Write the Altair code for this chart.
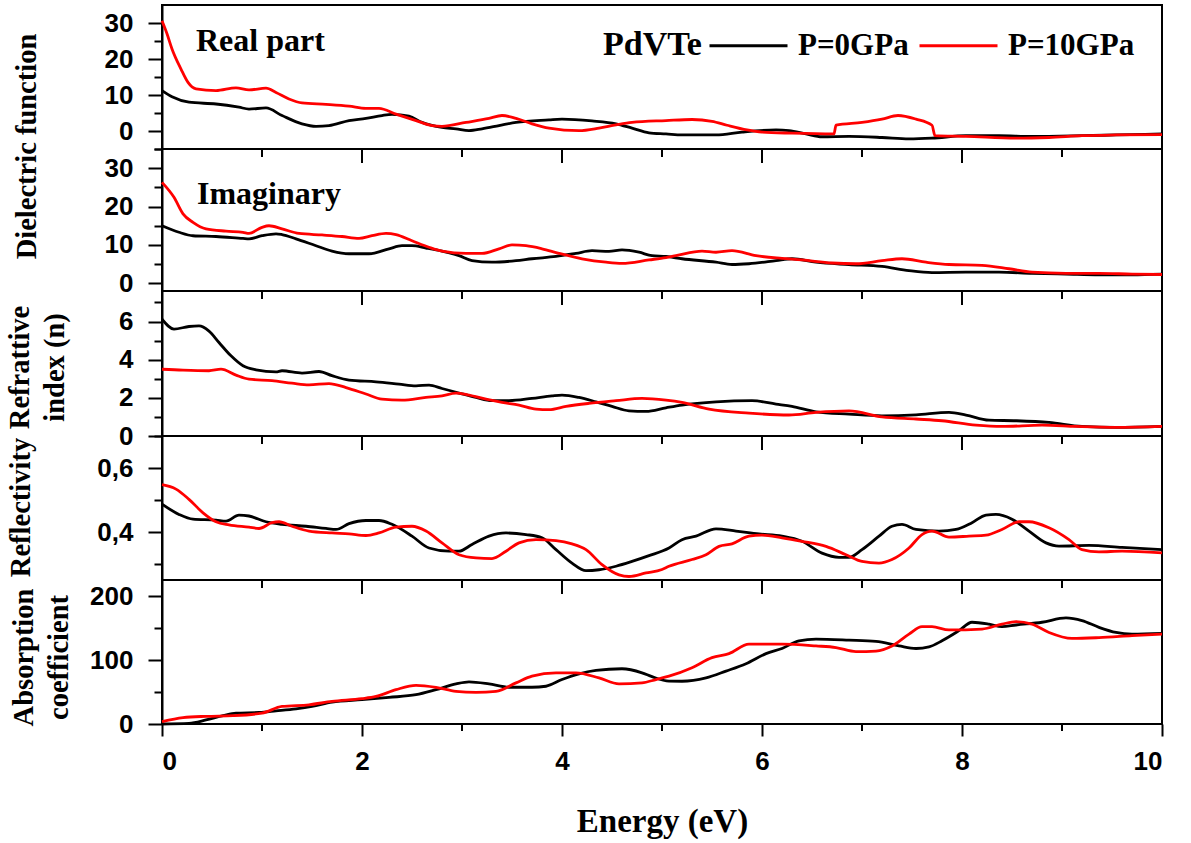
import altair as alt
import pandas as pd

SERIES = ["P=0GPa", "P=10GPa"]
COLORS = ["#000000", "#ff0000"]

# ---- Real part of dielectric function ----
RE0_E = [0, 0.1, 0.27, 0.54, 0.77, 0.87, 1.04, 1.2, 1.4, 1.54, 1.67, 1.87, 2.04, 2.2, 2.3, 2.47, 2.6, 2.8, 2.94, 3.07, 3.2, 3.37, 3.54, 3.87, 4.0, 4.3, 4.54, 4.7, 4.87, 5.04, 5.2, 5.54, 5.8, 6.14, 6.27, 6.44, 6.6, 6.87, 7.2, 7.47, 7.7, 8.04, 8.37, 8.7, 9.2, 9.54, 10]
RE0_V = [11.2, 9.5, 8.0, 7.5, 6.6, 6.1, 6.4, 4.3, 2.0, 1.3, 1.5, 2.9, 3.5, 4.3, 4.6, 4.1, 2.4, 1.0, 0.6, 0.1, 0.6, 1.5, 2.4, 3.1, 3.3, 2.8, 2.0, 0.8, -0.5, -0.8, -1.1, -1.1, -0.3, 0.3, 0.1, -0.8, -1.6, -1.5, -1.8, -2.2, -2.0, -1.3, -1.3, -1.5, -1.3, -1.1, -0.8]
RE10_E = [0, 0.05, 0.1, 0.19, 0.26, 0.34, 0.54, 0.74, 0.87, 1.04, 1.14, 1.27, 1.4, 1.64, 1.87, 2.04, 2.17, 2.34, 2.54, 2.7, 2.8, 3.04, 3.27, 3.4, 3.54, 3.7, 3.87, 4.17, 4.37, 4.54, 4.7, 5.04, 5.3, 5.5, 5.65, 5.85, 6.0, 6.3, 6.72, 6.74, 7.0, 7.2, 7.36, 7.54, 7.7, 7.73, 8.04, 8.54, 8.87, 9.2, 9.54, 10]
RE10_V = [30.6, 27.0, 22.8, 17.2, 13.5, 11.7, 11.2, 12.0, 11.4, 11.9, 10.7, 8.9, 7.8, 7.4, 6.9, 6.3, 6.3, 4.7, 2.9, 1.5, 1.3, 2.4, 3.5, 4.3, 3.5, 2.0, 0.8, 0.1, 0.8, 1.7, 2.4, 2.9, 3.2, 2.7, 1.6, 0.3, -0.3, -0.6, -0.8, 1.6, 2.4, 3.3, 4.3, 3.3, 1.6, -1.3, -1.5, -2.0, -1.8, -1.3, -1.1, -1.0]

# ---- Imaginary part ----
IM0_E = [0, 0.17, 0.31, 0.54, 0.81, 0.87, 1.0, 1.14, 1.2, 1.34, 1.54, 1.7, 1.87, 2.07, 2.27, 2.4, 2.5, 2.64, 2.8, 2.97, 3.1, 3.3, 3.54, 3.7, 3.94, 4.14, 4.3, 4.47, 4.6, 4.77, 4.9, 5.04, 5.2, 5.54, 5.7, 5.87, 6.14, 6.3, 6.54, 6.87, 7.2, 7.47, 7.7, 8.04, 8.37, 8.7, 9.04, 9.37, 9.7, 10]
IM0_V = [15.0, 13.3, 12.4, 12.2, 11.7, 11.6, 12.4, 12.9, 12.7, 11.6, 9.8, 8.4, 7.7, 7.7, 9.0, 9.8, 9.8, 9.2, 8.4, 7.2, 5.9, 5.5, 5.9, 6.4, 7.0, 7.8, 8.5, 8.3, 8.7, 8.1, 7.2, 7.0, 6.4, 5.5, 4.9, 5.1, 5.9, 6.4, 5.5, 4.9, 4.4, 3.3, 2.8, 2.9, 2.9, 2.6, 2.4, 2.2, 2.2, 2.4]
IM10_E = [0, 0.12, 0.21, 0.31, 0.44, 0.64, 0.81, 0.87, 1.0, 1.07, 1.2, 1.37, 1.6, 1.8, 1.97, 2.1, 2.24, 2.34, 2.5, 2.67, 2.8, 3.04, 3.2, 3.37, 3.5, 3.64, 3.8, 3.97, 4.2, 4.44, 4.6, 4.87, 5.04, 5.14, 5.4, 5.54, 5.7, 5.94, 6.2, 6.4, 6.7, 6.94, 7.2, 7.4, 7.64, 7.87, 8.2, 8.47, 8.7, 9.04, 9.37, 9.7, 10]
IM10_V = [26.3, 22.4, 18.1, 15.9, 14.2, 13.6, 13.3, 13.0, 14.6, 15.0, 14.2, 13.0, 12.6, 12.2, 11.7, 12.4, 13.0, 12.7, 11.1, 9.4, 8.4, 7.8, 7.8, 9.0, 10.0, 9.8, 9.0, 7.8, 6.4, 5.5, 5.2, 6.1, 6.7, 7.2, 8.4, 8.1, 8.5, 7.2, 6.5, 6.1, 5.3, 5.1, 5.9, 6.4, 5.5, 4.9, 4.7, 3.8, 2.9, 2.6, 2.6, 2.4, 2.3]

# ---- Refractive index ----
N0_E = [0, 0.12, 0.27, 0.37, 0.47, 0.57, 0.69, 0.81, 0.94, 1.14, 1.2, 1.4, 1.57, 1.7, 1.87, 2.14, 2.37, 2.54, 2.67, 2.8, 2.97, 3.14, 3.3, 3.47, 3.7, 3.9, 4.0, 4.17, 4.34, 4.5, 4.67, 4.84, 5.04, 5.2, 5.54, 5.9, 6.14, 6.3, 6.54, 6.87, 7.2, 7.54, 7.87, 8.04, 8.27, 8.54, 8.87, 9.2, 9.54, 10]
N0_V = [6.12, 5.6, 5.74, 5.77, 5.5, 4.9, 4.2, 3.68, 3.47, 3.36, 3.42, 3.3, 3.38, 3.16, 2.93, 2.84, 2.72, 2.63, 2.67, 2.49, 2.25, 2.02, 1.85, 1.85, 1.97, 2.1, 2.14, 2.02, 1.79, 1.55, 1.32, 1.29, 1.48, 1.62, 1.79, 1.85, 1.67, 1.55, 1.27, 1.15, 1.06, 1.11, 1.24, 1.1, 0.83, 0.8, 0.71, 0.5, 0.45, 0.5]
N10_E = [0, 0.21, 0.47, 0.59, 0.74, 0.87, 1.1, 1.3, 1.47, 1.67, 1.84, 2.04, 2.2, 2.4, 2.64, 2.8, 2.94, 3.07, 3.24, 3.4, 3.57, 3.74, 3.87, 4.04, 4.27, 4.54, 4.8, 5.04, 5.2, 5.47, 5.87, 6.27, 6.54, 6.87, 7.2, 7.54, 7.8, 8.14, 8.4, 8.8, 9.14, 9.54, 10]
N10_V = [3.5, 3.45, 3.42, 3.5, 3.19, 2.98, 2.9, 2.77, 2.68, 2.75, 2.54, 2.2, 1.93, 1.88, 2.02, 2.1, 2.25, 2.14, 1.93, 1.76, 1.62, 1.41, 1.38, 1.55, 1.71, 1.85, 1.97, 1.88, 1.76, 1.41, 1.2, 1.1, 1.24, 1.32, 1.0, 0.89, 0.8, 0.57, 0.5, 0.57, 0.5, 0.45, 0.5]

# ---- Reflectivity ----
R0_E = [0, 0.17, 0.31, 0.54, 0.64, 0.77, 0.87, 1.04, 1.2, 1.44, 1.64, 1.74, 1.87, 2.04, 2.17, 2.3, 2.5, 2.67, 2.87, 2.97, 3.1, 3.27, 3.44, 3.64, 3.8, 3.94, 4.1, 4.24, 4.37, 4.54, 4.7, 4.87, 5.07, 5.2, 5.34, 5.54, 5.74, 5.97, 6.2, 6.4, 6.6, 6.77, 6.87, 7.0, 7.17, 7.3, 7.4, 7.54, 7.77, 7.94, 8.1, 8.24, 8.34, 8.5, 8.67, 8.84, 8.97, 9.27, 9.6, 10]
R0_V = [0.487, 0.455, 0.44, 0.437, 0.434, 0.453, 0.45, 0.432, 0.424, 0.418, 0.411, 0.408, 0.426, 0.436, 0.436, 0.424, 0.387, 0.35, 0.34, 0.34, 0.361, 0.387, 0.397, 0.392, 0.382, 0.345, 0.303, 0.279, 0.282, 0.293, 0.308, 0.326, 0.35, 0.376, 0.387, 0.41, 0.403, 0.394, 0.387, 0.371, 0.334, 0.321, 0.321, 0.345, 0.387, 0.418, 0.424, 0.408, 0.403, 0.408, 0.429, 0.453, 0.455, 0.44, 0.403, 0.366, 0.356, 0.358, 0.352, 0.345]
R10_E = [0, 0.14, 0.27, 0.41, 0.54, 0.67, 0.87, 0.97, 1.1, 1.17, 1.3, 1.47, 1.7, 1.87, 2.04, 2.17, 2.34, 2.5, 2.64, 2.8, 2.97, 3.14, 3.3, 3.44, 3.57, 3.74, 3.94, 4.1, 4.24, 4.4, 4.57, 4.67, 4.84, 5.0, 5.07, 5.3, 5.44, 5.57, 5.7, 5.87, 6.0, 6.2, 6.4, 6.64, 6.84, 7.0, 7.17, 7.3, 7.47, 7.6, 7.7, 7.87, 8.07, 8.24, 8.4, 8.57, 8.67, 8.87, 9.07, 9.2, 9.37, 9.6, 10]
R10_V = [0.548, 0.534, 0.502, 0.46, 0.432, 0.422, 0.415, 0.411, 0.429, 0.432, 0.418, 0.403, 0.397, 0.394, 0.389, 0.397, 0.415, 0.418, 0.403, 0.366, 0.329, 0.319, 0.317, 0.34, 0.366, 0.376, 0.373, 0.363, 0.345, 0.298, 0.266, 0.261, 0.272, 0.283, 0.293, 0.314, 0.329, 0.355, 0.363, 0.387, 0.39, 0.382, 0.371, 0.355, 0.329, 0.308, 0.303, 0.314, 0.35, 0.392, 0.403, 0.384, 0.387, 0.39, 0.408, 0.432, 0.432, 0.413, 0.376, 0.345, 0.338, 0.34, 0.335]

# ---- Absorption coefficient ----
A0_E = [0, 0.27, 0.44, 0.61, 0.74, 0.97, 1.14, 1.34, 1.5, 1.7, 2.0, 2.27, 2.54, 2.74, 2.94, 3.07, 3.27, 3.47, 3.7, 3.84, 4.0, 4.17, 4.34, 4.6, 4.8, 4.9, 5.07, 5.2, 5.44, 5.64, 5.84, 6.04, 6.2, 6.37, 6.54, 6.87, 7.14, 7.37, 7.54, 7.67, 7.8, 7.97, 8.1, 8.27, 8.4, 8.54, 8.8, 9.04, 9.2, 9.37, 9.54, 9.7, 10]
A0_V = [0, 1, 6.3, 13, 17, 18, 20.5, 23.7, 27.4, 34, 38, 41.6, 45.8, 53.7, 62.6, 65.8, 62.6, 57.4, 57.4, 59, 69.5, 78.4, 83.7, 86.3, 80, 74, 67, 66.8, 72, 82.6, 94.2, 110, 118, 130, 132.6, 131, 129, 122, 118, 120.5, 130, 145.8, 159, 156, 152, 154.7, 159, 165.8, 161.6, 151, 143, 140.5, 141.6]
A10_E = [0, 0.21, 0.44, 0.71, 1.0, 1.2, 1.47, 1.7, 2.0, 2.14, 2.34, 2.54, 2.74, 2.94, 3.14, 3.34, 3.54, 3.7, 3.94, 4.14, 4.37, 4.57, 4.8, 4.94, 5.07, 5.3, 5.5, 5.67, 5.87, 6.2, 6.54, 6.74, 6.94, 7.14, 7.3, 7.47, 7.6, 7.7, 7.87, 8.2, 8.4, 8.54, 8.7, 8.87, 9.1, 9.37, 9.7, 10]
A10_V = [3.7, 10, 12, 13, 17, 27.4, 30, 35.3, 39.5, 43, 53.7, 60.5, 57.4, 51, 49.5, 51, 64.2, 74.7, 80, 80, 72, 62.6, 64.2, 69.5, 74.7, 88, 103.7, 110, 124.7, 124.7, 122, 119.5, 113, 114, 122, 140.5, 152, 152, 147, 148.4, 156, 160, 156, 143, 133.7, 135, 138, 140.5]

# ---- energy tick positions (major labelled, minor unlabelled) ----
X_MAJOR = [0, 2, 4, 6, 8, 10]
X_MINOR = [1, 3, 5, 7, 9]

# ---- annotations inside panels ----
ANN_TEXT = ["Real part", "Imaginary"]
ANN_E = [0.34, 0.35]
ANN_V = [22.3, 20.7]

SERIF = "Liberation Serif"
SANS = "Liberation Sans"


def frame(e0, v0, e1, v1):
    return pd.concat([
        pd.DataFrame({"E": e0, "v": v0, "series": SERIES[0]}),
        pd.DataFrame({"E": e1, "v": v1, "series": SERIES[1]}),
    ], ignore_index=True)


def cond(test, big, small):
    return {"condition": {"test": test, "value": big}, "value": small}


def make_panel(df, height, ydom, yvals, ymajor, ylabel_expr, title, title_x, title_y,
               top_ticks=True, bottom=False, legend=None, ann=None):
    if bottom:
        xaxis = alt.Axis(orient="bottom", values=X_MAJOR, tickSize=12,
                         tickWidth=2, tickColor="black", domain=False, grid=False,
                         labelFont=SANS, labelFontSize=26, labelFontWeight="bold",
                         labelColor="black", labelPadding=12,
                         title="Energy (eV)", titleFont=SERIF, titleFontSize=33,
                         titleFontWeight="bold", titleColor="black", titlePadding=31)
    else:
        xaxis = None
    yaxis = alt.Axis(values=yvals, labelExpr=ylabel_expr,
                     tickSize=cond(ymajor, 14, 8), tickWidth=2, tickColor="black",
                     domain=True, domainColor="black", domainWidth=2, grid=False,
                     labelFont=SANS, labelFontSize=26, labelFontWeight="bold",
                     labelColor="black", labelPadding=15,
                     title=title, titleFont=SERIF, titleFontSize=28.5,
                     titleFontWeight="bold", titleColor="black", titleAngle=270,
                     titleX=title_x, titleY=title_y, titleAlign="center",
                     titleBaseline="middle", titleLineHeight=35)
    xscale = alt.Scale(domain=[0, 10], nice=False, zero=False)
    yscale = alt.Scale(domain=ydom, nice=False, zero=False)
    X = alt.X("E:Q", scale=xscale, axis=xaxis)
    Y = alt.Y("v:Q", scale=yscale, axis=yaxis)

    lines = alt.Chart(df).mark_line(strokeWidth=2.8, interpolate="monotone").encode(
        x=X, y=Y,
        color=alt.Color("series:N", scale=alt.Scale(domain=SERIES, range=COLORS),
                        legend=legend),
        order="E:Q",
    )
    layers = [lines]

    def rules(values, y0, y1):
        return alt.Chart(pd.DataFrame({"E": values})).mark_rule(
            color="black", strokeWidth=2).encode(x=X, y=alt.value(y0), y2=alt.value(y1))

    if top_ticks:
        layers.append(rules(X_MAJOR, 0, 14))
        layers.append(rules(X_MINOR, 0, 8))
    if bottom:
        layers.append(rules(X_MINOR, height, height + 7))
    if ann is not None:
        adf = pd.DataFrame({"E": [ANN_E[ann]], "v": [ANN_V[ann]], "t": [ANN_TEXT[ann]]})
        txt = alt.Chart(adf).mark_text(align="left", baseline="alphabetic", font=SERIF,
                                       fontSize=32, fontWeight="bold", color="black").encode(
            x=X, y=Y, text="t:N")
        layers.append(txt)
    return alt.layer(*layers).properties(width=1000, height=height)


legend = alt.Legend(orient="none", legendX=441, legendY=0, direction="horizontal",
                    title="PdVTe", titleOrient="left", titleAnchor="middle",
                    titleFont=SERIF, titleFontSize=34,
                    titleFontWeight="bold", titleColor="black", titlePadding=6,
                    titleBaseline="line-top", titleLineHeight=25,
                    labelFont=SERIF, labelFontSize=31, labelFontWeight="bold",
                    labelColor="black", labelOffset=9, columnPadding=4,
                    symbolType="stroke", symbolSize=6084, symbolStrokeWidth=3,
                    labelLimit=400, padding=0)

p1 = make_panel(frame(RE0_E, RE0_V, RE10_E, RE10_V), 144, [-5, 35],
                [-5, 0, 5, 10, 15, 20, 25, 30], "datum.value % 10 === 0",
                "datum.value % 10 === 0 && datum.value >= 0 ? datum.label : ''",
                "Dielectric function", -136, 141, top_ticks=False, legend=legend, ann=0)
p2 = make_panel(frame(IM0_E, IM0_V, IM10_E, IM10_V), 142, [-2, 35],
                [0, 5, 10, 15, 20, 25, 30, 35], "datum.value % 10 === 0",
                "datum.value % 10 === 0 && datum.value <= 30 ? datum.label : ''",
                None, -136, 71, ann=1)
p3 = make_panel(frame(N0_E, N0_V, N10_E, N10_V), 145, [0, 7.6],
                [0, 1, 2, 3, 4, 5, 6, 7], "datum.value % 2 === 0",
                "datum.value % 2 === 0 ? datum.label : ''",
                ["Refrattive", "index (n)"], -143, 76)
p4 = make_panel(frame(R0_E, R0_V, R10_E, R10_V), 144, [0.25, 0.7],
                [0.3, 0.4, 0.5, 0.6, 0.7], "round(datum.value * 10) % 2 === 0",
                "round(datum.value * 10) % 2 === 0 ? replace(format(datum.value, '.1f'), '.', ',') : ''",
                "Reflectivity", -142, 71)
p5 = make_panel(frame(A0_E, A0_V, A10_E, A10_V), 144, [0, 225],
                [0, 50, 100, 150, 200], "datum.value % 100 === 0",
                "datum.value % 100 === 0 ? datum.label : ''",
                ["Absorption", "coefficient"], -139, 77, bottom=True)

chart = alt.vconcat(p1, p2, p3, p4, p5, spacing=0, bounds="flush").resolve_scale(
    color="independent"
).configure_view(stroke="black", strokeWidth=2).properties(
    background="white", padding={"left": 4, "top": 4, "right": 10, "bottom": 5}
)

chart.save("out.html", embed_options={"renderer": "svg", "actions": False})
